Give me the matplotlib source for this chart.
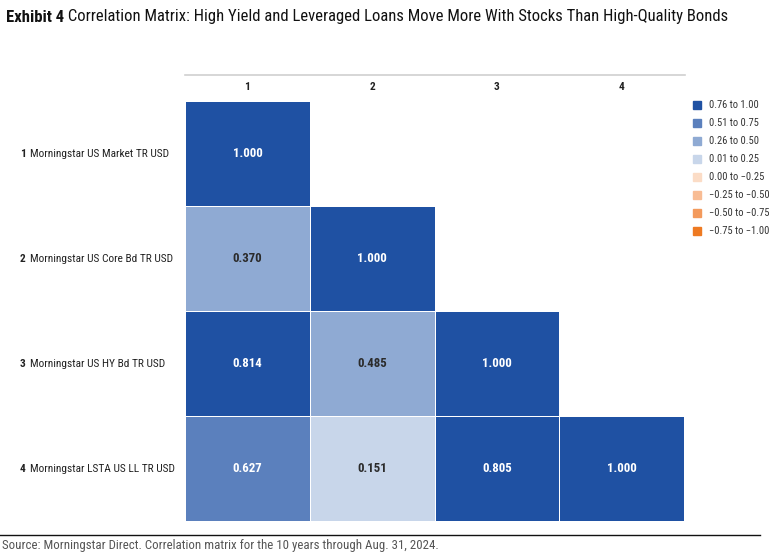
import numpy as np
import matplotlib
matplotlib.use("Agg")
import matplotlib.pyplot as plt
from matplotlib.colors import ListedColormap, BoundaryNorm
from matplotlib.patches import Rectangle

plt.rcParams['font.family'] = ['Roboto Condensed', 'DejaVu Sans']

title_bold = "Exhibit 4"
title_rest = " Correlation Matrix: High Yield and Leveraged Loans Move More With Stocks Than High-Quality Bonds"
source = "Source: Morningstar Direct. Correlation matrix for the 10 years through Aug. 31, 2024."

col_labels = ["1", "2", "3", "4"]
row_labels = ["Morningstar US Market TR USD", "Morningstar US Core Bd TR USD",
              "Morningstar US HY Bd TR USD", "Morningstar LSTA US LL TR USD"]
corr = [[1.000, None, None, None],
        [0.370, 1.000, None, None],
        [0.814, 0.485, 1.000, None],
        [0.627, 0.151, 0.805, 1.000]]

legend_labels = ["0.76 to 1.00", "0.51 to 0.75", "0.26 to 0.50", "0.01 to 0.25",
                 "0.00 to \u22120.25", "\u22120.25 to \u22120.50", "\u22120.50 to \u22120.75", "\u22120.75 to \u22121.00"]
legend_colors = ["#1F51A3", "#5B80BD", "#8FAAD3", "#C8D6EA",
                 "#FBDCC6", "#F8BC94", "#F39A5C", "#EE7A22"]
bounds = [-1.0, -0.75, -0.50, -0.25, 0.005, 0.255, 0.505, 0.755, 1.0001]

W, H = 769, 559
fig = plt.figure(figsize=(W / 100, H / 100), dpi=100)
renderer = fig.canvas.get_renderer()

def fx(px):
    return px / W

def fy(py):
    return 1 - py / H

def fit_size(text, target_px, weight="normal", base=10.0):
    t = fig.text(0, 0, text, fontsize=base, fontweight=weight)
    w = t.get_window_extent(renderer).width
    t.remove()
    return base * target_px / w

# font sizes fitted to the reference text widths
fs_title = fit_size(title_bold + title_rest, 716)
fs_row = fit_size(row_labels[0], 139)
fs_src = fit_size(source, 431)
fs_leg = fit_size(legend_labels[0], 49)
fs_cell = fit_size("0.814", 30, weight="bold")

# Matrix axes
left, right, top, bottom = 185, 684, 101, 521
ax = fig.add_axes([fx(left), fy(bottom), fx(right - left), (bottom - top) / H])
cmap = ListedColormap(legend_colors[::-1])
norm = BoundaryNorm(bounds, cmap.N)
data = np.ma.masked_invalid(np.array([[np.nan if v is None else v for v in r] for r in corr], dtype=float))
ax.pcolormesh(np.arange(5), np.arange(5), data, cmap=cmap, norm=norm,
              edgecolors="white", linewidth=0.6)
ax.set_xlim(0, 4)
ax.set_ylim(4, 0)
ax.axis("off")
for i, r in enumerate(corr):
    for j, v in enumerate(r):
        if v is None:
            continue
        c = "white" if v > 0.505 else "#2b2b2b"
        ax.text(j + 0.5, i + 0.5, f"{v:.3f}", ha="center", va="center",
                color=c, fontsize=fs_cell, fontweight="bold")

# Column labels
for j, lab in enumerate(col_labels):
    ax.text(j + 0.5, -0.135, lab, ha="center", va="center", fontsize=fs_row,
            fontweight="bold", color="#222222", clip_on=False)

# top line
fig.add_artist(plt.Line2D([fx(185), fx(685)], [fy(75), fy(75)], color="#d0d0d0", lw=1.2))

# Row labels
for i, lab in enumerate(row_labels):
    ycen = top + (i + 0.5) * (bottom - top) / 4 + 0.5
    fig.text(fx(20), fy(ycen), str(i + 1), ha="left", va="center", fontsize=fs_row,
             fontweight="bold", color="#222222")
    fig.text(fx(30), fy(ycen), lab, ha="left", va="center", fontsize=fs_row, color="#222222")

# Title
t1 = fig.text(fx(6), fy(17), title_bold, ha="left", va="center", fontsize=fs_title,
              fontweight="bold", color="#111111")
bb = t1.get_window_extent(renderer)
fig.text(bb.x1 / W, fy(17), title_rest, ha="left", va="center", fontsize=fs_title, color="#111111")

# Legend
for k, (lab, col) in enumerate(zip(legend_labels, legend_colors)):
    yc = 104.5 + k * 18.1
    fig.add_artist(Rectangle((fx(693), fy(yc + 4)), 8 / W, 8 / H, color=col,
                             transform=fig.transFigure))
    fig.text(fx(709), fy(yc), lab, ha="left", va="center", fontsize=fs_leg, color="#333333")

# Bottom line and source
fig.add_artist(plt.Line2D([fx(0), fx(760)], [fy(535), fy(535)], color="#111111", lw=1.0))
fig.text(fx(2), fy(546), source, ha="left", va="center", fontsize=fs_src, color="#555555")

fig.savefig("out.png", dpi=100)
